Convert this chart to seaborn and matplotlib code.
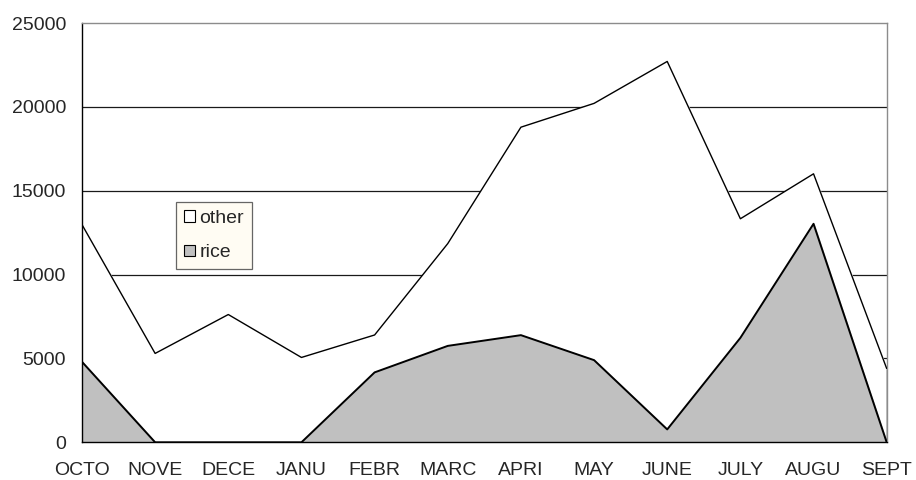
import pandas as pd
import matplotlib
matplotlib.use('Agg')
import matplotlib.pyplot as plt
import seaborn as sns
from matplotlib.patches import Patch

# data
months = ['OCTO', 'NOVE', 'DECE', 'JANU', 'FEBR', 'MARC', 'APRI', 'MAY', 'JUNE', 'JULY', 'AUGU', 'SEPT']
rice = [4800, 0, 0, 0, 4170, 5750, 6390, 4900, 770, 6230, 13030, 0]
other = [8180, 5300, 7620, 5060, 2230, 6100, 12400, 15310, 21940, 7100, 2980, 4400]
yticks = [0, 5000, 10000, 15000, 20000, 25000]

df = pd.DataFrame({'pos': range(len(months)), 'month': months, 'rice': rice, 'other': other})
df['total'] = df['rice'] + df['other']

sns.set_style('white')
plt.rcParams['font.family'] = ['Liberation Sans', 'DejaVu Sans']

fig, ax = plt.subplots(figsize=(9.16, 4.8), dpi=100)
fig.subplots_adjust(left=0.0895, right=0.968, bottom=0.0785, top=0.952)

# grid lines behind the areas
for v in yticks[1:-1]:
    ax.axhline(v, color='#1a1a1a', lw=0.9, zorder=0)

ax.fill_between(df['pos'], df['total'], color='white', zorder=1)
ax.fill_between(df['pos'], df['rice'], color='#c0c0c0', zorder=2)
sns.lineplot(data=df, x='pos', y='total', color='black', lw=1.0, ax=ax, zorder=3)
sns.lineplot(data=df, x='pos', y='rice', color='black', lw=1.4, ax=ax, zorder=4)
ax.vlines(df['pos'].iloc[-1], 0, df['total'].iloc[-1], color='black', lw=1.0, zorder=3)

ax.set_xlim(0, len(months) - 1)
ax.set_ylim(0, 25000)
ax.set_xticks(df['pos'])
ax.set_xticklabels(months)
ax.set_yticks(yticks)
ax.set_xlabel('')
ax.set_ylabel('')
ax.tick_params(axis='both', labelsize=14, direction='inout', length=9, width=0.9, color='black')
ax.tick_params(axis='x', pad=10)
ax.tick_params(axis='y', pad=7)

for side in ['left', 'bottom']:
    ax.spines[side].set_color('black')
    ax.spines[side].set_linewidth(1.0)
for side in ['top', 'right']:
    ax.spines[side].set_color('#8c8c8c')
    ax.spines[side].set_linewidth(1.0)
ax.spines['bottom'].set_zorder(5)

handles = [Patch(facecolor='white', edgecolor='black', lw=0.8, label='other'),
           Patch(facecolor='#c0c0c0', edgecolor='black', lw=0.8, label='rice')]
leg = ax.legend(handles=handles, loc='upper left', bbox_to_anchor=(0.117, 0.573), borderaxespad=0,
                fontsize=14, frameon=True, fancybox=False, handlelength=0.55, handleheight=0.55,
                handletextpad=0.25, labelspacing=0.9, borderpad=0.4)
leg.get_frame().set_facecolor('#fffcf0')
leg.get_frame().set_edgecolor('#404040')
leg.get_frame().set_linewidth(0.9)
leg.set_zorder(6)

plt.savefig('out.png', dpi=100)
